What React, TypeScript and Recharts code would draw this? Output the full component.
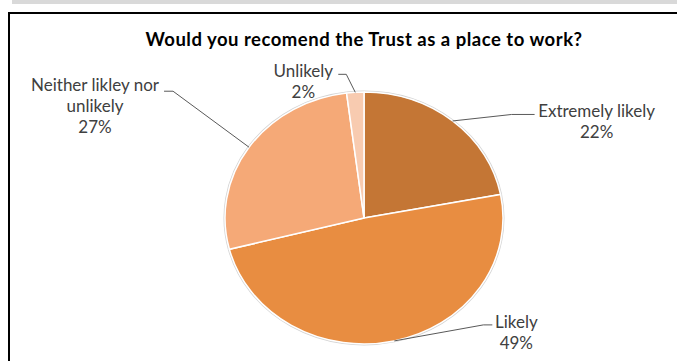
import { PieChart, Pie, Cell } from "recharts";

const categories = ["Extremely likely", "Likely", "Neither likley nor unlikely", "Unlikely"];
const labelText = [["Extremely likely"], ["Likely"], ["Neither likley nor", "unlikely"], ["Unlikely"]];
const values = [22, 49, 27, 2];
const colors = ["#C47635", "#E88D41", "#F5A977", "#F8CBB0"];

const data = categories.map((name, i) => ({ name, value: values[i] }));

// label placement relative to the slice anchor point on the rim
const labelLayout = [
  { ex: 59, ey: -6.5, tail: 23, tx: 144, ty: -10 },
  { ex: 89, ey: -16, tail: 9, tx: 122, ty: -19 },
  { ex: -76, ey: -56, tail: -9, tx: -154, ty: -63 },
  { ex: -9, ey: -18, tail: -8, tx: -52, ty: -22 },
];

const FONT = "Lato, 'Liberation Sans', sans-serif";
const SQUASH = 0.906;
const RAD = Math.PI / 180;

function rim(cx: number, cy: number, r: number, deg: number) {
  return [cx + r * Math.cos(deg * RAD), cy - r * SQUASH * Math.sin(deg * RAD)];
}

function EllipseSector(props: any) {
  const { cx, cy, outerRadius, startAngle, endAngle, fill } = props;
  const rx = outerRadius;
  const ry = outerRadius * SQUASH;
  const [x1, y1] = rim(cx, cy, rx, startAngle);
  const [x2, y2] = rim(cx, cy, rx, endAngle);
  const large = Math.abs(startAngle - endAngle) > 180 ? 1 : 0;
  const sweep = startAngle > endAngle ? 1 : 0;
  const arc = `M${x1},${y1} A${rx},${ry} 0 ${large} ${sweep} ${x2},${y2}`;
  return (
    <g>
      <path d={arc} fill="none" stroke="#d4d4d4" strokeWidth={3} />
      <path d={`M${cx},${cy} L${x1},${y1} A${rx},${ry} 0 ${large} ${sweep} ${x2},${y2} Z`} fill={fill} stroke="#fff" strokeWidth={1.5} />
    </g>
  );
}

function renderLabel(props: any) {
  const { cx, cy, outerRadius, midAngle, index, value } = props;
  const [ax, ay] = rim(cx, cy, outerRadius, midAngle);
  const l = labelLayout[index];
  const bx = ax + l.ex;
  const by = ay + l.ey;
  const lines = [...labelText[index], `${value}%`];
  return (
    <g key={`lab-${index}`}>
      <polyline points={`${ax},${ay} ${bx},${by} ${bx + l.tail},${by}`} fill="none" stroke="#595959" strokeWidth={1} />
      {lines.map((t, j) => (
        <text
          key={j}
          x={ax + l.tx}
          y={ay + l.ty + j * 21}
          textAnchor="middle"
          dominantBaseline="central"
          fill="#404040"
          fontSize={17}
          fontFamily={FONT}
        >
          {t}
        </text>
      ))}
    </g>
  );
}

export default function App() {
  return (
    <div style={{ position: "absolute", left: 0, top: 0, width: 677, height: 361, overflow: "hidden", background: "#fff" }}>
      <div style={{ position: "absolute", left: 12, top: 0, width: 665, height: 4, background: "#d9d9d9" }} />
      <div style={{ position: "absolute", left: 8, top: 12, width: 700, height: 400, borderTop: "2px solid #000", borderLeft: "2px solid #000", boxShadow: "1px 1px 0 #999" }} />
      <div style={{ position: "absolute", left: 0, top: 28, width: 728, textAlign: "center", fontFamily: FONT, fontWeight: 700, fontSize: 18.5, letterSpacing: 0.5, color: "#000" }}>
        Would you recomend the Trust as a place to work?
      </div>
      <div style={{ position: "absolute", left: 0, top: 0 }}>
        <PieChart width={677} height={361} margin={{ top: 0, right: 0, bottom: 0, left: 0 }}>
          <Pie
            data={data}
            dataKey="value"
            nameKey="name"
            cx={364}
            cy={218}
            outerRadius={139}
            startAngle={90}
            endAngle={-270}
            stroke="#fff"
            shape={EllipseSector}
            label={renderLabel}
            labelLine={false}
            isAnimationActive={false}
          >
            {data.map((d, i) => (
              <Cell key={d.name} fill={colors[i]} />
            ))}
          </Pie>
        </PieChart>
      </div>
    </div>
  );
}
